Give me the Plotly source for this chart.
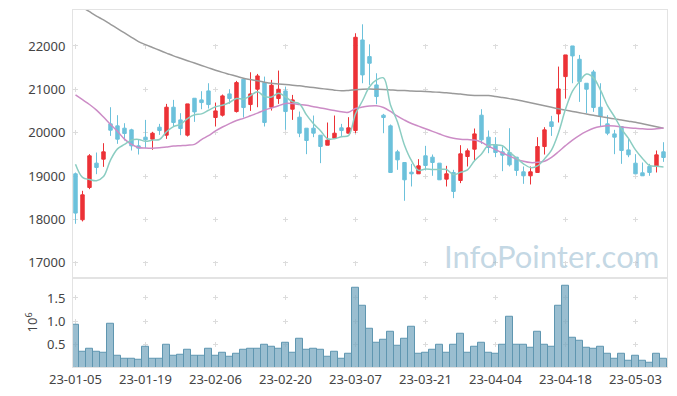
import plotly.graph_objects as go
from plotly.subplots import make_subplots
import pandas as pd

dates = [
    "23-01-05","23-01-06","23-01-09","23-01-10","23-01-11","23-01-12","23-01-13","23-01-16","23-01-17","23-01-18",
    "23-01-19","23-01-20","23-01-25","23-01-26","23-01-27","23-01-30","23-01-31","23-02-01","23-02-02","23-02-03",
    "23-02-06","23-02-07","23-02-08","23-02-09","23-02-10","23-02-13","23-02-14","23-02-15","23-02-16","23-02-17",
    "23-02-20","23-02-21","23-02-22","23-02-23","23-02-24","23-02-27","23-02-28","23-03-02","23-03-03","23-03-06",
    "23-03-07","23-03-08","23-03-09","23-03-10","23-03-13","23-03-14","23-03-15","23-03-16","23-03-17","23-03-20",
    "23-03-21","23-03-22","23-03-23","23-03-24","23-03-27","23-03-28","23-03-29","23-03-30","23-03-31","23-04-03",
    "23-04-04","23-04-05","23-04-06","23-04-07","23-04-10","23-04-11","23-04-12","23-04-13","23-04-14","23-04-17",
    "23-04-18","23-04-19","23-04-20","23-04-21","23-04-24","23-04-25","23-04-26","23-04-27","23-04-28","23-05-02",
    "23-05-03","23-05-04","23-05-08","23-05-09","23-05-10",
]

open_ = [19051,17991,18736,19297,19389,20203,20157,20103,20065,19696,
         19896,19850,20126,19942,20587,20295,19942,20794,20756,20963,
         20349,20403,20894,20487,21232,20648,21002,21155,20587,20787,
         20963,20541,20357,20103,20103,19942,19711,19873,20111,19988,
         20049,22138,21754,21101,20403,20157,19558,19312,19089,19051,
         19466,19435,19297,18928,19082,18897,19450,19619,20403,19896,
         19719,19558,19542,19435,19097,19005,19082,19680,20249,20433,
         21293,22000,21693,21140,21401,20587,20203,19972,20142,19603,
         19296,19074,19220,19220,19558]
high = [19080,18659,19504,19542,19757,20587,20403,20218,20090,19850,
        20295,20019,20203,20664,20756,20449,20664,20794,20956,21140,
        20694,20879,21002,21194,21255,21393,21355,21293,21217,21432,
        21063,20871,20487,20103,20395,19942,20234,20395,20203,20357,
        22292,22499,22038,21370,20433,20188,19604,19312,19281,19389,
        19696,19496,19297,19235,19143,19711,19635,20096,20541,20050,
        19896,19681,20103,19435,19220,19220,19896,20126,20387,21524,
        21793,22000,21793,21140,21447,21140,20403,20065,20142,19865,
        19504,19312,19281,19588,19780]
low = [17899,17953,18697,19043,19212,19926,19742,19819,19588,19496,
       19642,19604,19949,19857,20142,19942,19911,20249,20541,20556,
       20142,20372,20664,20464,20349,20502,20587,20142,20510,20664,
       20065,20295,19896,19504,19896,19297,19711,19873,19911,19988,
       19988,21140,21101,20656,19988,19082,19143,18429,18759,19051,
       19128,19005,18913,18759,18490,18836,19220,19350,19742,19527,
       19435,19112,19220,19005,18820,18805,19082,19496,19926,20234,
       20786,21140,20710,20449,20479,20142,19942,19504,19281,19435,
       19051,19005,19005,19082,19327]
close = [18145,18567,19466,19197,19558,20057,19850,19980,19696,19642,
         19834,19988,20049,20587,20234,20095,20664,20479,20694,20648,
         20502,20848,20787,21155,20579,20894,21309,20234,21094,21002,
         20487,20756,19988,19819,19988,19681,19827,19988,20049,20111,
         22200,21332,21601,20833,20349,19082,19373,18913,19051,19235,
         19243,19312,18913,19051,18644,19512,19581,19972,19834,19658,
         19542,19481,19258,19128,19005,19097,19680,20065,20142,21009,
         21793,21770,21178,21002,20579,20372,19988,19896,19588,19489,
         19051,19005,19082,19488,19427]

# volume in millions of shares
volume = [0.93,0.35,0.41,0.35,0.33,0.96,0.26,0.21,0.21,0.18,
          0.47,0.21,0.21,0.51,0.28,0.30,0.39,0.26,0.28,0.41,
          0.28,0.34,0.24,0.32,0.39,0.41,0.41,0.51,0.47,0.41,
          0.54,0.34,0.64,0.39,0.41,0.39,0.24,0.36,0.21,0.32,
          1.71,1.34,0.84,0.54,0.62,0.77,0.49,0.64,0.88,0.32,
          0.34,0.39,0.51,0.34,0.51,0.73,0.34,0.47,0.54,0.34,
          0.32,0.51,1.11,0.51,0.51,0.43,0.79,0.51,0.47,1.34,
          1.76,0.66,0.58,0.43,0.41,0.47,0.32,0.21,0.32,0.17,
          0.28,0.17,0.13,0.32,0.21]

# first four 5-day averages need earlier closes
ma5_head = [19274, 18970, 18920, 18890]

ma20 = [20870,20760,20650,20520,20360,20190,20030,19850,19730,19660,
        19645,19640,19650,19670,19690,19700,19710,19730,19840,19930,
        20040,20130,20210,20280,20330,20390,20450,20520,20570,20620,
        20675,20670,20650,20630,20600,20570,20540,20510,20480,20470,
        20560,20590,20615,20620,20580,20490,20380,20290,20210,20150,
        20090,20030,19970,19910,19870,19850,19840,19830,19780,19690,
        19610,19530,19460,19390,19340,19310,19315,19340,19430,19560,
        19700,19830,19940,20030,20100,20140,20160,20155,20130,20115,
        20100,20090,20080,20090,20105]

ma60 = [22990,22890,22790,22690,22600,22500,22400,22300,22200,22100,
        22030,21965,21900,21835,21770,21715,21660,21605,21550,21495,
        21440,21390,21345,21300,21255,21225,21195,21165,21140,21125,
        21110,21095,21080,21060,21040,21020,21000,20980,20965,20975,
        20990,21000,21005,21000,20995,20985,20975,20970,20960,20955,
        20950,20940,20930,20920,20905,20890,20870,20860,20858,20855,
        20835,20810,20785,20760,20725,20690,20655,20620,20585,20550,
        20520,20490,20460,20430,20400,20370,20345,20318,20290,20265,
        20240,20205,20170,20135,20100]

tick_labels = ["23-01-05","23-01-19","23-02-06","23-02-20","23-03-07",
               "23-03-21","23-04-04","23-04-18","23-05-03"]
price_ticks = [17000, 18000, 19000, 20000, 21000, 22000]
price_tick_text = ["17000", "18000", "19000", "20000", "21000", "22000"]
vol_ticks = [0.5, 1.0, 1.5]
vol_tick_text = ["0.5", "1.0", "1.5"]

ma5_tail = pd.Series(close).rolling(5).mean().tolist()[4:]
ma5 = ma5_head + ma5_tail

UP = "#ec3237"
DOWN = "#6cc1db"
FONT = "Noto Sans"
TXT = "#444444"

fig = make_subplots(rows=2, cols=1, shared_xaxes=True, vertical_spacing=0,
                    row_heights=[0.75, 0.25])

fig.add_trace(go.Candlestick(
    x=dates, open=open_, high=high, low=low, close=close,
    increasing=dict(line=dict(color=UP, width=1), fillcolor=UP),
    decreasing=dict(line=dict(color=DOWN, width=1), fillcolor=DOWN),
    whiskerwidth=0, showlegend=False), row=1, col=1)

fig.add_trace(go.Scatter(x=dates, y=ma60, mode="lines", line=dict(color="#9a9a9a", width=1.5, shape="spline"),
                         showlegend=False), row=1, col=1)
fig.add_trace(go.Scatter(x=dates, y=ma20, mode="lines", line=dict(color="#cc8cc6", width=1.5, shape="spline"),
                         showlegend=False), row=1, col=1)
fig.add_trace(go.Scatter(x=dates, y=ma5, mode="lines", line=dict(color="#8bcdc2", width=1.5, shape="spline"),
                         showlegend=False), row=1, col=1)

fig.add_trace(go.Bar(x=dates, y=volume, marker=dict(color="rgba(120,168,192,0.75)",
                                                      line=dict(color="#5f96b0", width=1)),
                     showlegend=False), row=2, col=1)

axis_common = dict(showline=True, mirror=True, linecolor="#e3e3e3", linewidth=1,
                   zeroline=False, gridcolor="#dcdcdc", gridwidth=1, automargin=False)

fig.update_xaxes(type="category", range=[-0.357, 84.5], tickmode="array", tickvals=tick_labels,
                 ticktext=tick_labels, rangeslider_visible=False, showgrid=True, showticklabels=False,
                 griddash="0px,33.5px,5px,4.9px", **axis_common, row=1, col=1)
fig.update_xaxes(type="category", range=[-0.357, 84.5], tickmode="array", tickvals=tick_labels,
                 ticktext=tick_labels, showgrid=True, griddash="0px,17.6px,5px,0.82px",
                 tickfont=dict(family=FONT, size=13, color=TXT), **axis_common, row=2, col=1)
fig.update_xaxes(rangeslider_visible=False)

fig.update_yaxes(range=[16654, 22829], tickmode="array", tickvals=price_ticks, ticktext=price_tick_text,
                 showgrid=True, griddash="5px,65px", tickfont=dict(family=FONT, size=13, color=TXT),
                 ticklabelstandoff=4, **axis_common, row=1, col=1)
fig.update_yaxes(range=[0.03, 1.93], tickmode="array", tickvals=vol_ticks, ticktext=vol_tick_text,
                 showgrid=True, griddash="5px,65px", tickfont=dict(family=FONT, size=13, color=TXT),
                 ticklabelstandoff=4,
                 title=dict(text="10<sup>6</sup>", font=dict(family=FONT, size=13, color=TXT), standoff=6),
                 **axis_common, row=2, col=1)

fig.add_annotation(text="InfoPointer.com", xref="paper", yref="paper", x=0.99, y=0.31,
                   xanchor="right", yanchor="middle", showarrow=False,
                   font=dict(family="Lato", size=31, color="rgba(145,182,205,0.55)"))

fig.update_layout(width=677, height=396, margin=dict(l=73, r=10, t=10, b=29),
                  paper_bgcolor="white", plot_bgcolor="white", bargap=0,
                  font=dict(family=FONT, size=13, color=TXT), hovermode=False)

fig.write_html("out.html", config={"displayModeBar": False},
               post_script="document.body.style.margin='0';document.body.style.overflow='hidden';")
